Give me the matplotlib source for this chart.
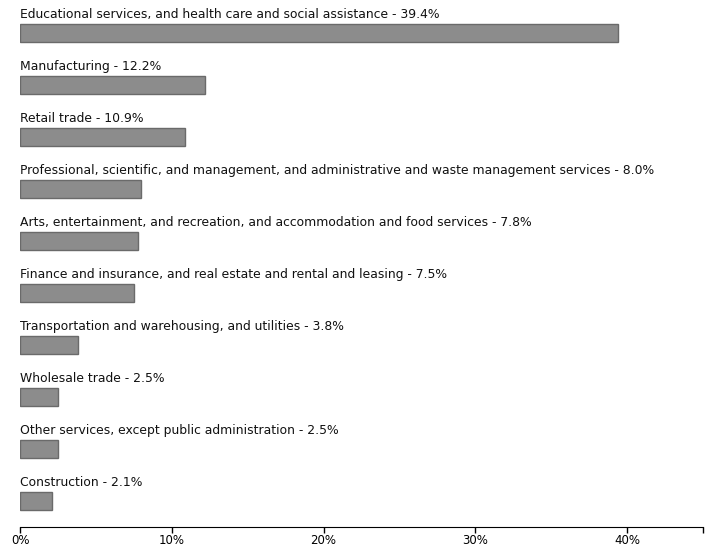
import matplotlib
matplotlib.use("Agg")
import matplotlib.pyplot as plt
import numpy as np

# industry shares (percent)
categories = [
    "Educational services, and health care and social assistance",
    "Manufacturing",
    "Retail trade",
    "Professional, scientific, and management, and administrative and waste management services",
    "Arts, entertainment, and recreation, and accommodation and food services",
    "Finance and insurance, and real estate and rental and leasing",
    "Transportation and warehousing, and utilities",
    "Wholesale trade",
    "Other services, except public administration",
    "Construction",
]
values = [39.4, 12.2, 10.9, 8.0, 7.8, 7.5, 3.8, 2.5, 2.5, 2.1]
xticks = [0, 10, 20, 30, 40]

W, H = 708, 548
fig = plt.figure(figsize=(W / 100, H / 100), dpi=100)
ax = fig.add_axes([20 / W, 21 / H, 683 / W, 527 / H])

pos = np.arange(len(values))
ax.barh(pos, values, height=0.35, color="#8c8c8c", edgecolor="#6a6a6a", linewidth=1)

for i, (c, v) in enumerate(zip(categories, values)):
    ax.text(0, i - 0.36, f"{c} - {v:.1f}%", fontsize=8.9, va="center", ha="left",
            color="#111111")

ax.set_xlim(0, 45)
ax.set_ylim(9.5, -0.635)
ax.set_xticks(xticks)
ax.set_xticklabels([f"{t}%" for t in xticks], fontsize=8.5)
ax.set_xticks([45], minor=True)
ax.set_yticks([])
for s in ["top", "right", "left"]:
    ax.spines[s].set_visible(False)
ax.spines["bottom"].set_color("#000000")
ax.tick_params(axis="x", which="both", length=4, width=1, pad=1)

plt.savefig("out.png", dpi=100)
